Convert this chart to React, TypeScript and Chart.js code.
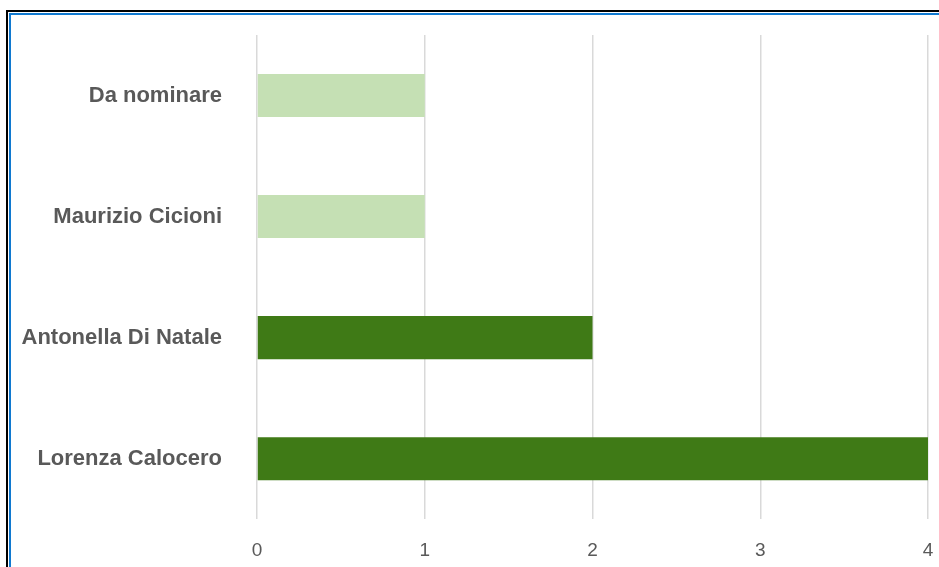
import React, { useEffect, useRef } from "react";
import { Chart, registerables } from "chart.js";

Chart.register(...registerables);

const categories: string[] = ["Da nominare", "Maurizio Cicioni", "Antonella Di Natale", "Lorenza Calocero"];
const values: number[] = [1, 1, 2, 4];
const barColors: string[] = ["#c5e0b4", "#c5e0b4", "#3f7a16", "#3f7a16"];
const xTicks: number[] = [0, 1, 2, 3, 4];

export default function App() {
  const canvasRef = useRef<HTMLCanvasElement | null>(null);

  useEffect(() => {
    const canvas = canvasRef.current;
    if (!canvas) return;
    const chart = new Chart(canvas, {
      type: "bar",
      data: {
        labels: categories,
        datasets: [
          {
            data: values,
            backgroundColor: barColors,
            borderWidth: 0,
            categoryPercentage: 1,
            barPercentage: 0.356,
          },
        ],
      },
      options: {
        indexAxis: "y",
        animation: false,
        responsive: false,
        maintainAspectRatio: false,
        layout: { padding: { top: 35, right: 11, bottom: -15, left: 0 } },
        plugins: { legend: { display: false }, tooltip: { enabled: false }, title: { display: false } },
        scales: {
          x: {
            min: xTicks[0],
            max: xTicks[xTicks.length - 1],
            afterBuildTicks: (scale: any) => {
              scale.ticks = xTicks.map((v) => ({ value: v }));
            },
            afterFit: (scale: any) => {
              scale.paddingLeft = 0;
              scale.paddingRight = 0;
            },
            grid: { color: "#d9d9d9", lineWidth: 1.5, drawTicks: false },
            border: { display: false },
            ticks: {
              padding: 20,
              color: "#595959",
              font: { family: "'Liberation Sans', Arial, sans-serif", size: 19 },
              maxRotation: 0,
            },
          },
          y: {
            grid: { display: false, drawTicks: false },
            border: { display: false },
            afterFit: (scale: any) => {
              scale.width = 257;
              scale.paddingTop = 0;
              scale.paddingBottom = 0;
            },
            ticks: {
              padding: 35,
              color: "#595959",
              font: { family: "'Liberation Sans', Arial, sans-serif", size: 22, weight: "bold" },
            },
          },
        },
      },
    });
    return () => chart.destroy();
  }, []);

  return (
    <div style={{ position: "fixed", left: 0, top: 0, width: 939, height: 567, background: "#ffffff", overflow: "hidden" }}>
      <div
        style={{
          position: "absolute",
          left: 6,
          top: 10,
          width: 1000,
          height: 700,
          borderLeft: "2px solid #000000",
          borderTop: "2px solid #000000",
        }}
      />
      <div
        style={{
          position: "absolute",
          left: 9,
          top: 13,
          width: 1000,
          height: 700,
          borderLeft: "2px solid #1079d0",
          borderTop: "2px solid #1079d0",
        }}
      />
      <canvas ref={canvasRef} width={939} height={567} style={{ position: "absolute", left: 0, top: 0, width: 939, height: 567 }} />
    </div>
  );
}
